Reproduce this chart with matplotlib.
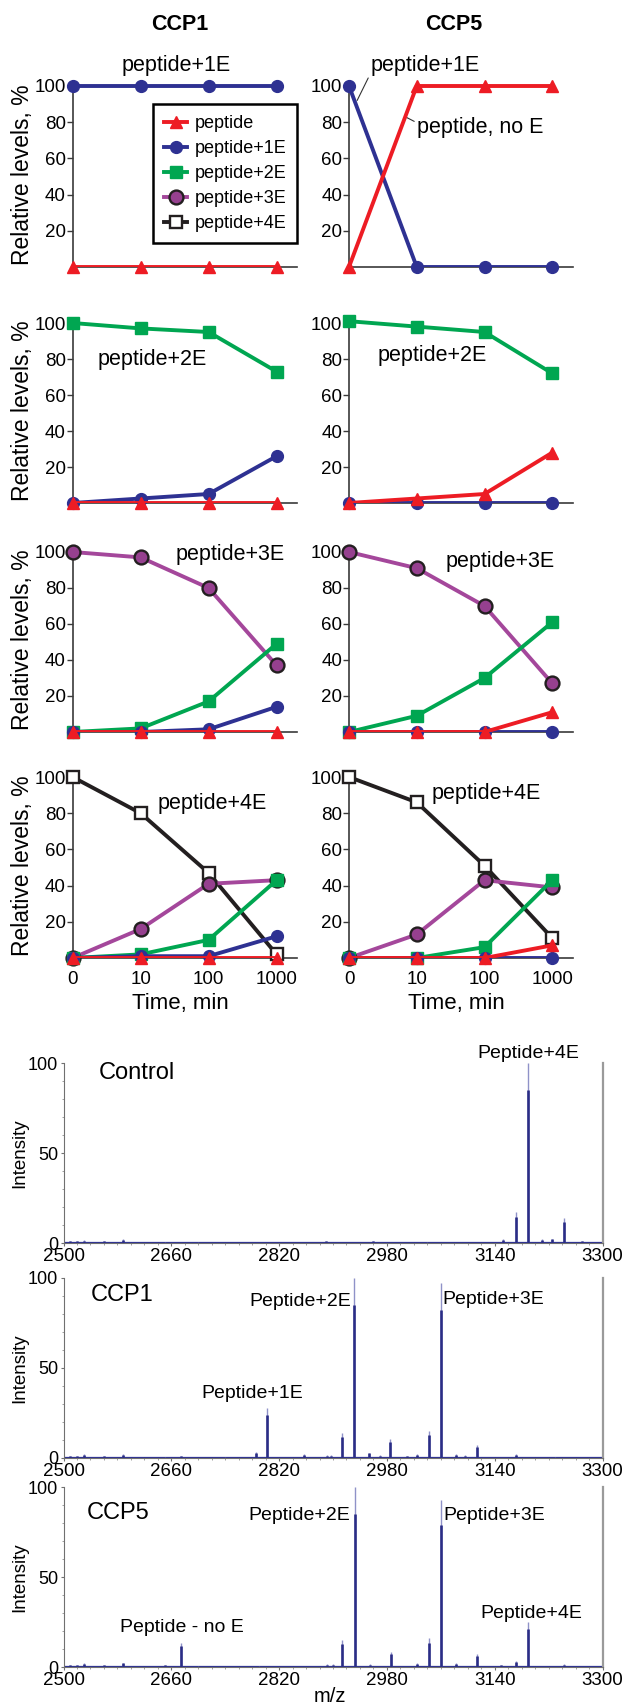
import numpy as np
import matplotlib
matplotlib.use("Agg")
import matplotlib.pyplot as plt
from matplotlib.ticker import FixedLocator, NullFormatter
from matplotlib.lines import Line2D

plt.rcParams['font.family'] = ['Liberation Sans', 'DejaVu Sans']

# ---- time course data (order: peptide, +1E, +2E, +3E, +4E) ----
times = ['0', '10', '100', '1000']
series_names = ['peptide', 'peptide+1E', 'peptide+2E', 'peptide+3E', 'peptide+4E']

ccp1_from1E = [[0, 0, 0, 0], [100, 100, 100, 100]]
ccp5_from1E = [[0, 100, 100, 100], [100, 0, 0, 0]]
ccp1_from2E = [[0, 0, 0, 0], [0, 2.5, 5, 26], [100, 97, 95, 73]]
ccp5_from2E = [[0, 2.5, 5, 28], [0, 0, 0, 0], [101, 98, 95, 72]]
ccp1_from3E = [[0, 0, 0, 0], [0, 0, 1.5, 14], [0, 2, 17, 49], [100, 97, 80, 37]]
ccp5_from3E = [[0, 0, 0, 11], [0, 0, 0, 0], [0, 9, 30, 61], [100, 91, 70, 27]]
ccp1_from4E = [[0, 0, 0, 0], [0, 1, 1, 12], [0, 2, 10, 43], [0, 16, 41, 43], [100, 80, 47, 2]]
ccp5_from4E = [[0, 0, 0, 7], [0, 0, 0, 0], [0, 0, 6, 43], [0, 13, 43, 39], [100, 86, 51, 11]]

row_labels = ['peptide+1E', 'peptide+2E', 'peptide+3E', 'peptide+4E']

# ---- mass spectra peaks (m/z, relative intensity) ----
control_mz = [2510, 2520, 2531, 2560, 2588, 2650, 2700, 2889, 2959, 3040, 3153,
              3171, 3189, 3210, 3225, 3243, 3270]
control_int = [1, 1, 1.5, 1, 2, 0.8, 0.8, 1, 1, 0.8, 2, 17, 100, 2, 2.5, 14, 1]
ccp1_mz = [2510, 2520, 2531, 2560, 2588, 2650, 2674, 2740, 2785, 2802, 2857, 2891,
           2897, 2913, 2931, 2954, 2970, 2985, 3010, 3025, 3042, 3060, 3083, 3096,
           3114, 3172, 3230]
ccp1_int = [1, 1, 2, 1, 2, 0.8, 1, 0.8, 3.5, 28, 2, 1.5, 1.5, 14, 100, 3, 1.5, 10.5,
            1, 2, 15, 97, 2, 1.5, 7.5, 2, 0.8]
ccp5_mz = [2510, 2520, 2531, 2560, 2588, 2650, 2674, 2700, 2790, 2891, 2900, 2914,
           2932, 2955, 2986, 3025, 3042, 3060, 3083, 3114, 3150, 3172, 3190, 3243]
ccp5_int = [1, 1, 2, 1, 2.5, 1, 13.5, 0.8, 0.8, 1.5, 1.5, 15, 100, 1.5, 8.5, 2, 16,
            93, 2, 7, 1, 3.5, 25, 1.5]
mz_ticks = [2500, 2660, 2820, 2980, 3140, 3300]
mz_minor = [m for m in range(2520, 3300, 20) if m not in mz_ticks]
int_ticks = [0, 50, 100]
int_minor = [10, 20, 30, 40, 60, 70, 80, 90]

W, H = 623, 1705
fig = plt.figure(figsize=(W / 100, H / 100), dpi=100)

RED = '#ed1c24'
NAVY = '#2e3192'
GREEN = '#00a651'
PURPLE = '#a4479b'
BLACK = '#231f20'
styles = [
    dict(color=RED, marker='^', ms=8.5, mfc=RED, mec=RED, mew=1),
    dict(color=NAVY, marker='o', ms=8.5, mfc=NAVY, mec=NAVY, mew=1),
    dict(color=GREEN, marker='s', ms=8.5, mfc=GREEN, mec=GREEN, mew=1),
    dict(color=PURPLE, marker='o', ms=10, mfc='#96408f', mec=BLACK, mew=1.7),
    dict(color=BLACK, marker='s', ms=9, mfc='white', mec=BLACK, mew=1.7),
]


def px_axes(x0, x1, y_bot, y_top, ymax_frac=1.0):
    # y_bot: pixel row of y=0, y_top: pixel row of y=100
    top = y_bot - (y_bot - y_top) * ymax_frac
    return fig.add_axes([x0 / W, 1 - y_bot / H, (x1 - x0) / W, (y_bot - top) / H])


def ftext(x, y, s, **kw):
    fig.text(x / W, 1 - y / H, s, **kw)


cols = [(72.6, 297), (349, 572.6)]
rows = [(267, 86), (503, 323), (732, 552), (958, 777)]
panels = [[ccp1_from1E, ccp5_from1E], [ccp1_from2E, ccp5_from2E],
          [ccp1_from3E, ccp5_from3E], [ccp1_from4E, ccp5_from4E]]

axes = {}
for r, (yb, yt) in enumerate(rows):
    for c, (x0, x1) in enumerate(cols):
        ax = px_axes(x0, x1, yb, yt, 1.04)
        ax.set_xlim(0, 3.3)
        ax.set_ylim(0, 104)
        data = panels[r][c]
        xs = np.arange(len(times))
        for k in reversed(range(len(data))):
            st = styles[k]
            ax.plot(xs, data[k], color=st['color'], lw=2.8, zorder=2 + (5 - k))
            ax.plot(xs, data[k], ls='none', marker=st['marker'], ms=st['ms'],
                    mfc=st['mfc'], mec=st['mec'], mew=st['mew'], clip_on=False,
                    zorder=3 + (5 - k))
        for s in ['top', 'right']:
            ax.spines[s].set_visible(False)
        ax.spines['left'].set_bounds(0, 100)
        for s in ['left', 'bottom']:
            ax.spines[s].set_color('#3a3a3a')
            ax.spines[s].set_linewidth(1.2)
        ax.set_yticks([20, 40, 60, 80, 100])
        ax.tick_params(axis='y', labelsize=13.5, length=4, width=1, pad=1, colors='#3a3a3a',
                       labelcolor='black')
        ax.set_xticks(xs)
        if r == 3:
            ax.set_xticklabels(times)
            ax.tick_params(axis='x', labelsize=13.5, length=0, pad=9)
        else:
            ax.set_xticklabels([])
            ax.tick_params(axis='x', length=0)
        ax.set_facecolor('none')
        axes[(r, c)] = ax

    ftext(23, (yb + yt) / 2 - 2, 'Relative levels, %', rotation=90, ha='center',
          va='center', fontsize=16.5)

# column titles
ftext(180, 25, 'CCP1', ha='center', va='center', fontsize=15.5, fontweight='bold')
ftext(454, 25, 'CCP5', ha='center', va='center', fontsize=15.5, fontweight='bold')

# row annotations
ftext(176.6, 65, row_labels[0], ha='center', va='center', fontsize=15.5)
axes[(0, 1)].annotate(row_labels[0], xy=(0.12, 92), xytext=(371 / W, 1 - 65 / H),
                      textcoords='figure fraction', ha='left', va='center', fontsize=15.5,
                      arrowprops=dict(arrowstyle='-', lw=0.8, color='#333333',
                                      relpos=(0, 0.15), shrinkA=0, shrinkB=0))
axes[(0, 1)].annotate('peptide, no E', xy=(0.83, 83), xytext=(417 / W, 1 - 127 / H),
                      textcoords='figure fraction', ha='left', va='center', fontsize=15.5,
                      arrowprops=dict(arrowstyle='-', lw=0.8, color='#333333',
                                      relpos=(0, 0.7), shrinkA=0, shrinkB=0))
ftext(152, 359, row_labels[1], ha='center', va='center', fontsize=15.5)
ftext(432, 355, row_labels[1], ha='center', va='center', fontsize=15.5)
ftext(230, 555, row_labels[2], ha='center', va='center', fontsize=15.5)
ftext(500, 562, row_labels[2], ha='center', va='center', fontsize=15.5)
ftext(212, 803, row_labels[3], ha='center', va='center', fontsize=15.5)
ftext(486, 793, row_labels[3], ha='center', va='center', fontsize=15.5)

ftext(180, 1004, 'Time, min', ha='center', va='center', fontsize=16)
ftext(456, 1004, 'Time, min', ha='center', va='center', fontsize=16)

# legend
handles = [Line2D([], [], lw=2.8, **st) for st in styles]
leg = axes[(0, 0)].legend(handles, series_names, loc='upper left',
                          bbox_to_anchor=(153 / W, 1 - 104 / H),
                          bbox_transform=fig.transFigure, borderaxespad=0,
                          fontsize=13, handlelength=1.3, handletextpad=0.4,
                          labelspacing=0.45, borderpad=0.6, fancybox=False,
                          framealpha=1, edgecolor='black')
leg.get_frame().set_linewidth(1.8)
leg.set_zorder(20)

# ---- spectra ----
spec_rows = [(1243, 1063, control_mz, control_int),
             (1458, 1278, ccp1_mz, ccp1_int),
             (1667, 1487, ccp5_mz, ccp5_int)]
for i, (yb, yt, mz, inten) in enumerate(spec_rows):
    ax = px_axes(63.5, 602.5, yb, yt)
    ax.set_xlim(2500, 3300)
    ax.set_ylim(0, 100)
    ax.axhline(0.8, color=NAVY, lw=0.9, zorder=2)
    ax.vlines(mz, 0, inten, color='#8f92c8', lw=1.0, zorder=3)
    ax.vlines(mz, 0, np.array(inten) * 0.85, color='#2a2d86', lw=1.9, zorder=3)
    ax.spines['top'].set_visible(False)
    for s in ['left', 'bottom']:
        ax.spines[s].set_color('#707070')
        ax.spines[s].set_linewidth(0.8)
    ax.spines['right'].set_color('#9a9a9a')
    ax.spines['right'].set_linewidth(1.6)
    ax.set_xticks(mz_ticks)
    ax.set_yticks(int_ticks)
    ax.xaxis.set_minor_locator(FixedLocator(mz_minor))
    ax.yaxis.set_minor_locator(FixedLocator(int_minor))
    ax.xaxis.set_minor_formatter(NullFormatter())
    ax.yaxis.set_minor_formatter(NullFormatter())
    ax.tick_params(axis='both', which='major', labelsize=13.5, length=2.5, width=0.8,
                   colors='#707070', labelcolor='black', pad=1)
    ax.tick_params(axis='both', which='minor', length=1.5, width=0.6, colors='#909090')
    ax.tick_params(axis='y', pad=1.5, labelsize=13)
    ftext(20, (yb + yt) / 2, 'Intensity', rotation=90, ha='center', va='center',
          fontsize=13.5)

ftext(99, 1073, 'Control', ha='left', va='center', fontsize=17)
ftext(528, 1053, 'Peptide+4E', ha='center', va='center', fontsize=14)

ftext(90.5, 1295, 'CCP1', ha='left', va='center', fontsize=17)
ftext(351, 1301, 'Peptide+2E', ha='right', va='center', fontsize=14)
ftext(442.5, 1300, 'Peptide+3E', ha='left', va='center', fontsize=14)
ftext(201.6, 1393, 'Peptide+1E', ha='left', va='center', fontsize=14)

ftext(86.5, 1513, 'CCP5', ha='left', va='center', fontsize=17)
ftext(350.4, 1515, 'Peptide+2E', ha='right', va='center', fontsize=14)
ftext(443.7, 1515, 'Peptide+3E', ha='left', va='center', fontsize=14)
ftext(480, 1613, 'Peptide+4E', ha='left', va='center', fontsize=14)
ftext(120, 1628, 'Peptide - no E', ha='left', va='center', fontsize=14)

ftext(330, 1696, 'm/z', ha='center', va='center', fontsize=14.5)

fig.savefig('out.png', dpi=100)
